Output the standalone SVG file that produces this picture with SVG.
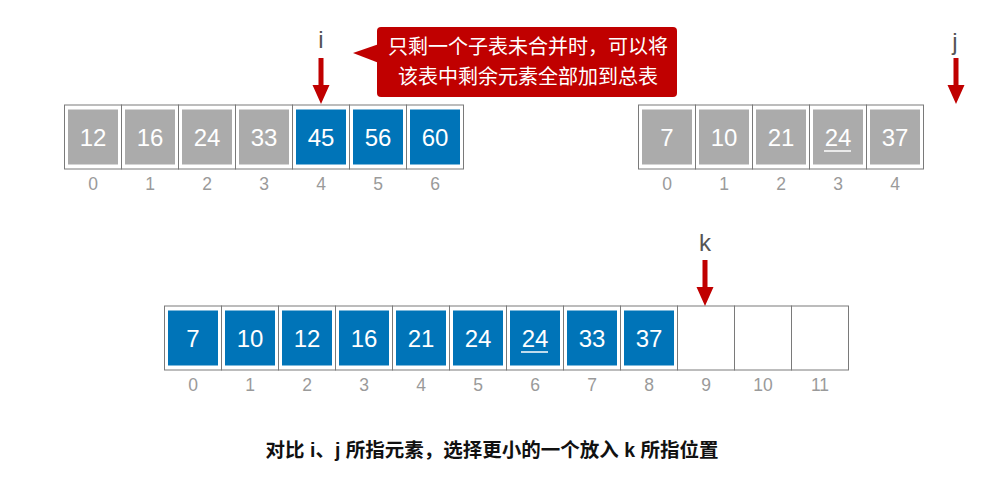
<svg xmlns="http://www.w3.org/2000/svg" width="992" height="481" viewBox="0 0 992 481">
<defs>
<style>
.cell{fill:#fff;stroke:#7a7a7a;stroke-width:1}
.g{fill:#ababab}
.b{fill:#0074b8}
.num{font-family:"Liberation Sans",Arial,sans-serif;font-size:24px;fill:#fff;text-anchor:middle}
.idx{font-family:"Liberation Sans",Arial,sans-serif;font-size:17.5px;fill:#9a9a9a;text-anchor:middle}
.ptr{font-family:"Liberation Sans",Arial,sans-serif;font-size:24px;fill:#555;text-anchor:middle}
.arr{fill:#c00000}
.call{font-family:"Noto Sans CJK SC","Noto Sans CJK JP",sans-serif;font-size:20px;fill:#fff;text-anchor:middle}
.cap{font-family:"Liberation Sans","Noto Sans CJK SC",sans-serif;font-size:19.5px;font-weight:bold;fill:#111;text-anchor:middle}
.ul{stroke:#fff;stroke-width:1.5}
</style>
<path id="arrow" class="arr" d="M-2.5,0 H2.5 V27 H8.5 L0,46 L-8.5,27 H-2.5 Z"/>
</defs>

<!-- Top-left array -->
<g id="A">
<g id="A0"><rect class="cell" x="64.5" y="105" width="57" height="64"/><rect class="g" x="68" y="109.5" width="50" height="55"/><text class="num" x="93" y="146">12</text><text class="idx" x="93" y="190">0</text></g>
<g id="A1"><rect class="cell" x="121.5" y="105" width="57" height="64"/><rect class="g" x="125" y="109.5" width="50" height="55"/><text class="num" x="150" y="146">16</text><text class="idx" x="150" y="190">1</text></g>
<g id="A2"><rect class="cell" x="178.5" y="105" width="57" height="64"/><rect class="g" x="182" y="109.5" width="50" height="55"/><text class="num" x="207" y="146">24</text><text class="idx" x="207" y="190">2</text></g>
<g id="A3"><rect class="cell" x="235.5" y="105" width="57" height="64"/><rect class="g" x="239" y="109.5" width="50" height="55"/><text class="num" x="264" y="146">33</text><text class="idx" x="264" y="190">3</text></g>
<g id="A4"><rect class="cell" x="292.5" y="105" width="57" height="64"/><rect class="b" x="296" y="109.5" width="50" height="55"/><text class="num" x="321" y="146">45</text><text class="idx" x="321" y="190">4</text></g>
<g id="A5"><rect class="cell" x="349.5" y="105" width="57" height="64"/><rect class="b" x="353" y="109.5" width="50" height="55"/><text class="num" x="378" y="146">56</text><text class="idx" x="378" y="190">5</text></g>
<g id="A6"><rect class="cell" x="406.5" y="105" width="57" height="64"/><rect class="b" x="410" y="109.5" width="50" height="55"/><text class="num" x="435" y="146">60</text><text class="idx" x="435" y="190">6</text></g>
</g>

<!-- Top-right array -->
<g id="B">
<g id="B0"><rect class="cell" x="638.5" y="105" width="57" height="64"/><rect class="g" x="642" y="109.5" width="50" height="55"/><text class="num" x="667" y="146">7</text><text class="idx" x="667" y="190">0</text></g>
<g id="B1"><rect class="cell" x="695.5" y="105" width="57" height="64"/><rect class="g" x="699" y="109.5" width="50" height="55"/><text class="num" x="724" y="146">10</text><text class="idx" x="724" y="190">1</text></g>
<g id="B2"><rect class="cell" x="752.5" y="105" width="57" height="64"/><rect class="g" x="756" y="109.5" width="50" height="55"/><text class="num" x="781" y="146">21</text><text class="idx" x="781" y="190">2</text></g>
<g id="B3"><rect class="cell" x="809.5" y="105" width="57" height="64"/><rect class="g" x="813" y="109.5" width="50" height="55"/><text class="num" x="838" y="146">24</text><line class="ul" x1="824" y1="151" x2="851" y2="151"/><text class="idx" x="838" y="190">3</text></g>
<g id="B4"><rect class="cell" x="866.5" y="105" width="57" height="64"/><rect class="g" x="870" y="109.5" width="50" height="55"/><text class="num" x="895" y="146">37</text><text class="idx" x="895" y="190">4</text></g>
</g>

<!-- Bottom array -->
<g id="C">
<g id="C0"><rect class="cell" x="164.5" y="306" width="57" height="64"/><rect class="b" x="168" y="310.5" width="50" height="55"/><text class="num" x="193" y="347">7</text><text class="idx" x="193" y="391">0</text></g>
<g id="C1"><rect class="cell" x="221.5" y="306" width="57" height="64"/><rect class="b" x="225" y="310.5" width="50" height="55"/><text class="num" x="250" y="347">10</text><text class="idx" x="250" y="391">1</text></g>
<g id="C2"><rect class="cell" x="278.5" y="306" width="57" height="64"/><rect class="b" x="282" y="310.5" width="50" height="55"/><text class="num" x="307" y="347">12</text><text class="idx" x="307" y="391">2</text></g>
<g id="C3"><rect class="cell" x="335.5" y="306" width="57" height="64"/><rect class="b" x="339" y="310.5" width="50" height="55"/><text class="num" x="364" y="347">16</text><text class="idx" x="364" y="391">3</text></g>
<g id="C4"><rect class="cell" x="392.5" y="306" width="57" height="64"/><rect class="b" x="396" y="310.5" width="50" height="55"/><text class="num" x="421" y="347">21</text><text class="idx" x="421" y="391">4</text></g>
<g id="C5"><rect class="cell" x="449.5" y="306" width="57" height="64"/><rect class="b" x="453" y="310.5" width="50" height="55"/><text class="num" x="478" y="347">24</text><text class="idx" x="478" y="391">5</text></g>
<g id="C6"><rect class="cell" x="506.5" y="306" width="57" height="64"/><rect class="b" x="510" y="310.5" width="50" height="55"/><text class="num" x="535" y="347">24</text><line class="ul" x1="521" y1="352" x2="548" y2="352"/><text class="idx" x="535" y="391">6</text></g>
<g id="C7"><rect class="cell" x="563.5" y="306" width="57" height="64"/><rect class="b" x="567" y="310.5" width="50" height="55"/><text class="num" x="592" y="347">33</text><text class="idx" x="592" y="391">7</text></g>
<g id="C8"><rect class="cell" x="620.5" y="306" width="57" height="64"/><rect class="b" x="624" y="310.5" width="50" height="55"/><text class="num" x="649" y="347">37</text><text class="idx" x="649" y="391">8</text></g>
<g id="C9"><rect class="cell" x="677.5" y="306" width="57" height="64"/><text class="idx" x="706" y="391">9</text></g>
<g id="C10"><rect class="cell" x="734.5" y="306" width="57" height="64"/><text class="idx" x="763" y="391">10</text></g>
<g id="C11"><rect class="cell" x="791.5" y="306" width="57" height="64"/><text class="idx" x="820" y="391">11</text></g>
</g>

<!-- Pointers -->
<g id="connectors">
<g id="ptr-i"><text class="ptr" x="321" y="48">i</text><use href="#arrow" x="321" y="58"/></g>
<g id="ptr-j"><text class="ptr" x="955" y="50">j</text><use href="#arrow" x="956" y="58"/></g>
<g id="ptr-k"><text class="ptr" x="705" y="251">k</text><use href="#arrow" x="705" y="260"/></g>
</g>

<!-- Callout -->
<g id="callout">
<rect class="arr" x="377" y="27" width="300" height="70" rx="4"/>
<polygon class="arr" points="353,53 379,44 379,63"/>
<text class="call" x="528" y="54">只剩一个子表未合并时，可以将</text>
<text class="call" x="528" y="84">该表中剩余元素全部加到总表</text>
</g>

<!-- Caption -->
<g id="caption">
<text class="cap" x="492" y="457">对比 i、j 所指元素，选择更小的一个放入 k 所指位置</text>
</g>
</svg>
